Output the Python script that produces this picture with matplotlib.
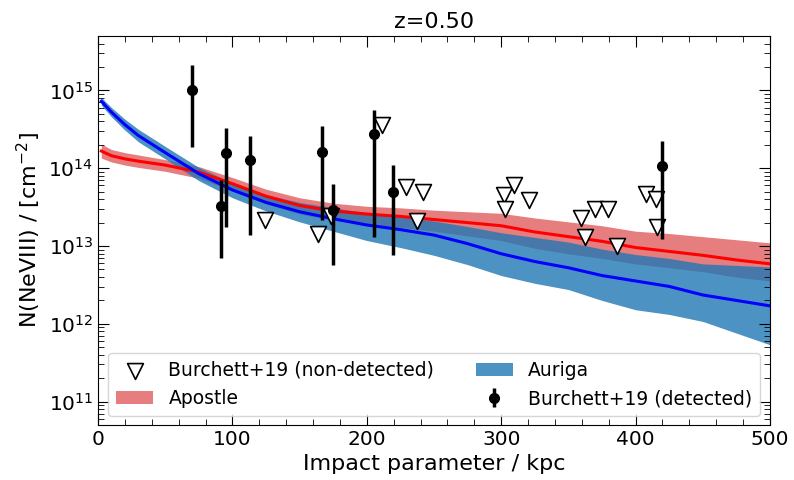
import numpy as np
import matplotlib
matplotlib.use("Agg")
from matplotlib import pyplot as plt
from matplotlib.ticker import MultipleLocator

# profiles (impact parameter in kpc, log10 column density)
r = [2.5, 10, 20, 30, 50, 75, 100, 125, 150, 175, 200, 225, 250, 275, 300, 325, 350, 375, 400, 425, 450, 475, 500]

auriga_med = [14.86, 14.72, 14.56, 14.42, 14.20, 13.93, 13.72, 13.56, 13.44, 13.35, 13.27, 13.21, 13.14, 13.03, 12.90, 12.80, 12.72, 12.62, 12.55, 12.48, 12.37, 12.30, 12.23]
auriga_hi = [14.91, 14.78, 14.63, 14.50, 14.28, 14.01, 13.81, 13.66, 13.56, 13.49, 13.43, 13.38, 13.32, 13.25, 13.17, 13.11, 13.05, 12.96, 12.89, 12.84, 12.77, 12.75, 12.73]
auriga_lo = [14.81, 14.66, 14.49, 14.34, 14.12, 13.84, 13.62, 13.45, 13.31, 13.19, 13.07, 12.98, 12.88, 12.76, 12.62, 12.52, 12.44, 12.30, 12.18, 12.12, 12.03, 11.88, 11.73]

apostle_med = [14.22, 14.16, 14.12, 14.09, 14.04, 13.95, 13.80, 13.64, 13.52, 13.45, 13.41, 13.38, 13.34, 13.30, 13.26, 13.18, 13.12, 13.06, 12.98, 12.93, 12.88, 12.82, 12.77]
apostle_hi = [14.31, 14.24, 14.20, 14.17, 14.11, 14.02, 13.88, 13.73, 13.62, 13.55, 13.51, 13.49, 13.46, 13.44, 13.42, 13.36, 13.31, 13.26, 13.19, 13.16, 13.12, 13.08, 13.04]
apostle_lo = [14.13, 14.08, 14.04, 14.01, 13.96, 13.87, 13.71, 13.54, 13.41, 13.33, 13.28, 13.24, 13.19, 13.13, 13.07, 12.97, 12.90, 12.84, 12.77, 12.72, 12.67, 12.60, 12.55]

# Burchett+19 detections (log N with upper / lower error bar ends)
det_b = [70, 91.5, 95, 113, 167, 175, 205, 219.5, 420]
det_n = [15.00, 13.51, 14.20, 14.10, 14.21, 13.46, 14.44, 13.70, 14.03]
det_top = [15.33, 13.85, 14.52, 14.41, 14.54, 13.80, 14.75, 14.04, 14.35]
det_bot = [14.27, 12.85, 13.25, 13.14, 13.33, 12.75, 13.11, 12.89, 13.09]

# Burchett+19 upper limits
nd_b = [124, 164, 173, 211, 229, 237, 242, 302, 303, 309.5, 321, 359, 362, 370, 379.5, 386, 408, 415, 416]
nd_n = [13.33, 13.15, 13.38, 14.55, 13.76, 13.32, 13.69, 13.66, 13.47, 13.79, 13.59, 13.36, 13.11, 13.48, 13.48, 13.00, 13.67, 13.61, 13.25]

r = np.array(r)
det_n = 10 ** np.array(det_n)
yerr = [det_n - 10 ** np.array(det_bot), 10 ** np.array(det_top) - det_n]

fig = plt.figure(figsize=(7.94, 4.8), dpi=100)
ax = fig.add_axes([0.1234, 0.1146, 0.8464, 0.8104])

nd = ax.scatter(nd_b, 10 ** np.array(nd_n), marker='v', s=130, facecolors='white',
                edgecolors='black', linewidths=1.2, zorder=4, label='Burchett+19 (non-detected)')
ap = ax.fill_between(r, 10 ** np.array(apostle_lo), 10 ** np.array(apostle_hi),
                     color='tab:red', alpha=0.6, lw=0, label='Apostle')
ax.plot(r, 10 ** np.array(apostle_med), color='red', lw=2.2)
au = ax.fill_between(r, 10 ** np.array(auriga_lo), 10 ** np.array(auriga_hi),
                     color='tab:blue', alpha=0.8, lw=0, label='Auriga')
ax.plot(r, 10 ** np.array(auriga_med), color='blue', lw=2.2)
de = ax.errorbar(det_b, det_n, yerr=yerr, fmt='o', color='black', ms=7,
                 elinewidth=2.5, zorder=5, label='Burchett+19 (detected)')

ax.set_yscale('log')
ax.set_xlim(0, 500)
ax.set_ylim(5e10, 5e15)
ax.xaxis.set_major_locator(MultipleLocator(100))
ax.xaxis.set_minor_locator(MultipleLocator(20))
ax.tick_params(which='both', direction='in', top=True, right=True, labelsize=14.5)
ax.tick_params(which='major', length=8)
ax.tick_params(which='minor', length=4)

ax.set_xlabel('Impact parameter / kpc', fontsize=16)
ax.set_ylabel(r'N(NeVIII) / [cm$^{-2}$]', fontsize=16)
ax.set_title('z=0.50', fontsize=16)

ax.legend([nd, ap, au, de], ['Burchett+19 (non-detected)', 'Apostle', 'Auriga', 'Burchett+19 (detected)'],
          ncol=2, loc='lower center', fontsize=13.5, columnspacing=2.2)

fig.savefig('out.png', dpi=100)
